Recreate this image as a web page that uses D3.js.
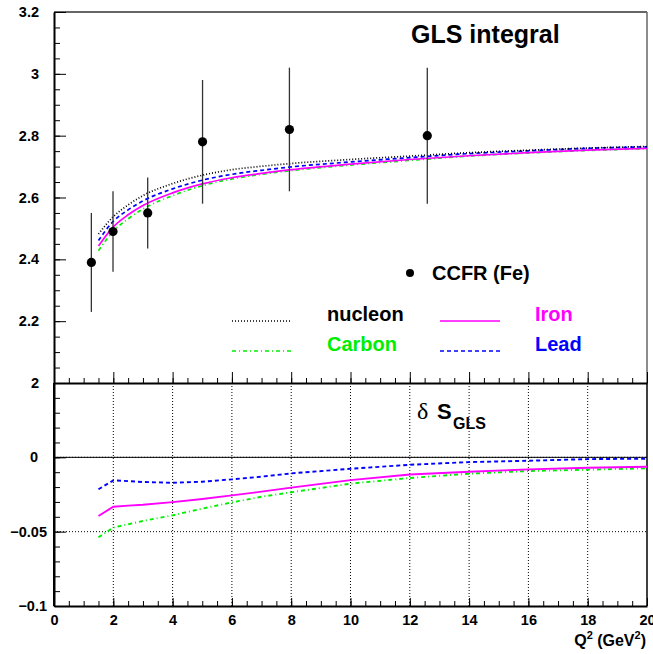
<!DOCTYPE html>
<html>
<head>
<meta charset="utf-8">
<script src="https://cdn.jsdelivr.net/npm/d3@7"></script>
<style>
  html, body { margin: 0; padding: 0; background: #fff; }
  svg { display: block; }
  text { font-family: "Liberation Sans", Arial, Helvetica, sans-serif; font-weight: bold; fill: #000; }
</style>
</head>
<body>
<svg id="chart" width="653" height="654"></svg>
<script>
// Q^2 grid (GeV^2) for the model curves
const q2 = [1.5, 2, 2.5, 3, 4, 5, 6, 7, 8, 10, 12, 14, 16, 18, 20];

// GLS sum rule: free nucleon and nuclear targets
const glsNucleon = [2.482, 2.538, 2.576, 2.606, 2.645, 2.672, 2.690, 2.701, 2.710, 2.723, 2.734, 2.745, 2.753, 2.760, 2.765];
const glsCarbon  = [2.428, 2.491, 2.531, 2.563, 2.606, 2.638, 2.660, 2.675, 2.687, 2.705, 2.720, 2.734, 2.744, 2.752, 2.758];
const glsIron    = [2.443, 2.505, 2.544, 2.574, 2.615, 2.644, 2.664, 2.678, 2.690, 2.708, 2.723, 2.735, 2.745, 2.753, 2.759];
const glsLead    = [2.461, 2.523, 2.560, 2.589, 2.628, 2.656, 2.675, 2.688, 2.699, 2.715, 2.729, 2.742, 2.751, 2.759, 2.764];

// Nuclear correction delta S_GLS
const dCarbon = [-0.0538, -0.0473, -0.0450, -0.0428, -0.0390, -0.0345, -0.0303, -0.0265, -0.0235, -0.0177, -0.0139, -0.0110, -0.0092, -0.0083, -0.0074];
const dIron   = [-0.0395, -0.0332, -0.0325, -0.0319, -0.0301, -0.0280, -0.0256, -0.0231, -0.0204, -0.0153, -0.0115, -0.0097, -0.0081, -0.0070, -0.0063];
const dLead   = [-0.0215, -0.0155, -0.0160, -0.0166, -0.0171, -0.0164, -0.0148, -0.0130, -0.0108, -0.0077, -0.0050, -0.0032, -0.0023, -0.0012, -0.0009];

// CCFR (Fe) measurements
const ccfrQ2  = [1.26, 1.99, 3.16, 5.01, 7.94, 12.59];
const ccfrGLS = [2.39, 2.49, 2.55, 2.78, 2.82, 2.80];
const ccfrErr = [0.16, 0.13, 0.115, 0.20, 0.20, 0.22];

// Axis tick labels
const xTickValues = [0, 2, 4, 6, 8, 10, 12, 14, 16, 18, 20];
const topTickValues = [2, 2.2, 2.4, 2.6, 2.8, 3, 3.2];
const botTickValues = [-0.1, -0.05, 0];

const series = [
  { name: "nucleon", top: glsNucleon, delta: null,    color: "#000000", dash: "1,2",     width: 1.7 },
  { name: "Carbon",  top: glsCarbon,  delta: dCarbon, color: "#00ee00", dash: "4,3,1,3", width: 1.7 },
  { name: "Iron",    top: glsIron,    delta: dIron,   color: "#ff00ff", dash: null,      width: 1.7 },
  { name: "Lead",    top: glsLead,    delta: dLead,   color: "#0000ff", dash: "4,3",     width: 1.7 }
];

const svg = d3.select("#chart");

const L = 54, R = 647, T1 = 12, B1 = 383, B2 = 606;
const x = d3.scaleLinear().domain([0, 20]).range([L, R]);
const yTop = d3.scaleLinear().domain([2, 3.2]).range([B1, T1]);
const yBot = d3.scaleLinear().domain([-0.1, 0.05]).range([B2, B1]);

// ---------- lower panel grid ----------
const grid = svg.append("g").attr("stroke", "#000").attr("stroke-width", 1).attr("stroke-dasharray", "1,2");
grid.selectAll("line.gx").data(d3.range(2, 20, 2)).join("line")
  .attr("x1", d => x(d)).attr("x2", d => x(d)).attr("y1", B1).attr("y2", B2);
grid.selectAll("line.gy").data([0, -0.05]).join("line")
  .attr("x1", L).attr("x2", R).attr("y1", d => yBot(d)).attr("y2", d => yBot(d));

// zero line
svg.append("line").attr("x1", L).attr("x2", R).attr("y1", yBot(0)).attr("y2", yBot(0))
  .attr("stroke", "#000").attr("stroke-width", 1);

// ---------- frames ----------
svg.append("line").attr("x1", L).attr("x2", R).attr("y1", T1).attr("y2", T1).attr("stroke", "#666").attr("stroke-width", 2);
svg.append("line").attr("x1", R).attr("x2", R).attr("y1", T1).attr("y2", B1).attr("stroke", "#666").attr("stroke-width", 1.5);
svg.append("line").attr("x1", R).attr("x2", R).attr("y1", B1).attr("y2", B2).attr("stroke", "#000").attr("stroke-width", 1.5);

// ---------- axes ----------
function styleAxis(g) {
  g.select(".domain").attr("stroke", "#000").attr("stroke-width", 2);
  g.selectAll(".tick line").attr("stroke", "#000").attr("stroke-width", 1);
  g.selectAll("text").style("font-size", "14.5px").style("font-weight", "bold")
    .style("font-family", "'Liberation Sans', Arial, sans-serif").attr("fill", "#000");
}

// upper panel, left axis
svg.append("g").attr("transform", `translate(${L},0)`)
  .call(d3.axisLeft(yTop).tickValues(d3.range(2, 3.2001, 0.05)).tickSize(-6).tickFormat("").tickSizeOuter(0))
  .call(g => { g.select(".domain").remove(); g.selectAll(".tick line").attr("stroke", "#000"); });
svg.append("g").attr("transform", `translate(${L},0)`)
  .call(d3.axisLeft(yTop).tickValues(topTickValues).tickSize(-12).tickSizeOuter(0).tickPadding(15)
    .tickFormat(d => d3.format("~g")(d)))
  .call(styleAxis);

// upper panel, bottom axis
svg.append("g").attr("transform", `translate(0,${B1})`)
  .call(d3.axisBottom(x).tickValues(d3.range(0, 20.001, 0.5)).tickSize(-5).tickFormat("").tickSizeOuter(0))
  .call(g => { g.select(".domain").remove(); g.selectAll(".tick line").attr("stroke", "#000"); });
svg.append("g").attr("transform", `translate(0,${B1})`)
  .call(d3.axisBottom(x).tickValues(xTickValues).tickSize(-11).tickFormat("").tickSizeOuter(0))
  .call(styleAxis);

// lower panel, left axis
svg.append("g").attr("transform", `translate(${L},0)`)
  .call(d3.axisLeft(yBot).tickValues(d3.range(-0.1, 0.0501, 0.01)).tickSize(-6).tickFormat("").tickSizeOuter(0))
  .call(g => { g.select(".domain").remove(); g.selectAll(".tick line").attr("stroke", "#000"); });
svg.append("g").attr("transform", `translate(${L},0)`)
  .call(d3.axisLeft(yBot).tickValues(botTickValues).tickSize(-12).tickSizeOuter(0).tickPadding(7)
    .tickFormat(d => d === 0 ? "0" : d3.format("~g")(d)))
  .call(styleAxis)
  .call(g => g.selectAll(".tick text").filter(d => d === 0).attr("x", -16));
svg.append("line").attr("x1", L).attr("x2", L).attr("y1", B1).attr("y2", B2).attr("stroke", "#000").attr("stroke-width", 2);

// lower panel, bottom axis
svg.append("g").attr("transform", `translate(0,${B2})`)
  .call(d3.axisBottom(x).tickValues(d3.range(0, 20.001, 0.5)).tickSize(-5).tickFormat("").tickSizeOuter(0))
  .call(g => { g.select(".domain").remove(); g.selectAll(".tick line").attr("stroke", "#000"); });
svg.append("g").attr("transform", `translate(0,${B2})`)
  .call(d3.axisBottom(x).tickValues(xTickValues).tickSize(-8).tickSizeOuter(0).tickPadding(10)
    .tickFormat(d3.format("d")))
  .call(styleAxis)
  .call(g => g.selectAll(".tick text").attr("y", 9).attr("dy", "0.71em"));

// ---------- curves ----------
const topLine = vals => d3.line().x((d, i) => x(q2[i])).y(d => yTop(d)).curve(d3.curveMonotoneX)(vals);
const botLine = vals => d3.line().x((d, i) => x(q2[i])).y(d => yBot(d))(vals);

const drawOrder = [series[1], series[2], series[3], series[0]];
svg.append("g").selectAll("path").data(drawOrder).join("path")
  .attr("d", d => topLine(d.top))
  .attr("fill", "none").attr("stroke", d => d.color).attr("stroke-width", d => d.width)
  .attr("stroke-dasharray", d => d.dash);

svg.append("g").selectAll("path").data(series.filter(s => s.delta)).join("path")
  .attr("d", d => botLine(d.delta))
  .attr("fill", "none").attr("stroke", d => d.color).attr("stroke-width", 1.9)
  .attr("stroke-dasharray", d => d.dash);

// ---------- CCFR data ----------
const pts = svg.append("g");
pts.selectAll("line").data(ccfrQ2).join("line")
  .attr("x1", d => x(d)).attr("x2", d => x(d))
  .attr("y1", (d, i) => yTop(ccfrGLS[i] + ccfrErr[i]))
  .attr("y2", (d, i) => yTop(ccfrGLS[i] - ccfrErr[i]))
  .attr("stroke", "#333").attr("stroke-width", 1.3);
pts.selectAll("circle").data(ccfrQ2).join("circle")
  .attr("cx", d => x(d)).attr("cy", (d, i) => yTop(ccfrGLS[i])).attr("r", 4.6).attr("fill", "#000");

// ---------- titles & legend ----------
svg.append("text").attr("x", 411).attr("y", 43).style("font-size", "25px").text("GLS integral");

svg.append("circle").attr("cx", 410).attr("cy", 273).attr("r", 4).attr("fill", "#000");
svg.append("text").attr("x", 432).attr("y", 280).style("font-size", "20px").text("CCFR (Fe)");

const legendPos = {
  nucleon: { lx: 232, tx: 327, y: 321 },
  Carbon:  { lx: 232, tx: 327, y: 351 },
  Iron:    { lx: 440, tx: 535, y: 321 },
  Lead:    { lx: 440, tx: 535, y: 351 }
};
const leg = svg.append("g");
series.forEach(s => {
  const p = legendPos[s.name];
  leg.append("line").attr("x1", p.lx).attr("x2", p.lx + 60).attr("y1", p.y).attr("y2", p.y)
    .attr("stroke", s.color).attr("stroke-width", s.width).attr("stroke-dasharray", s.dash);
  leg.append("text").attr("x", p.tx).attr("y", p.y).style("font-size", "20px")
    .attr("fill", s.color).style("fill", s.color).text(s.name);
});

// delta S_GLS label
svg.append("text").attr("x", 417).attr("y", 419)
  .style("font-family", "'Liberation Serif', 'DejaVu Serif', serif").style("font-weight", "normal")
  .style("font-size", "24px").text("δ");
svg.append("text").attr("x", 437).attr("y", 419).style("font-size", "22px").text("S");
svg.append("text").attr("x", 453).attr("y", 429).style("font-size", "16px").text("GLS");

// x axis title
const xt = svg.append("text").attr("x", 646).attr("y", 646).attr("text-anchor", "end").style("font-size", "16px");
xt.append("tspan").text("Q");
xt.append("tspan").attr("dy", -7).style("font-size", "11px").text("2");
xt.append("tspan").attr("dy", 7).text(" (GeV");
xt.append("tspan").attr("dy", -7).style("font-size", "11px").text("2");
xt.append("tspan").attr("dy", 7).text(")");
</script>
</body>
</html>
